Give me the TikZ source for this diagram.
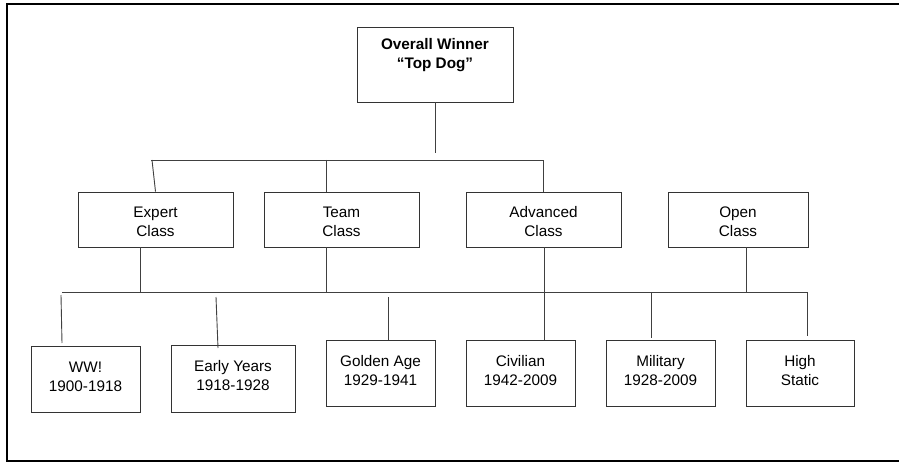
\documentclass[tikz,border=0pt]{standalone}
\usepackage{fontspec}
\setmainfont{Liberation Sans}
\usetikzlibrary{calc}
\begin{document}
\begin{tikzpicture}[x=1pt,y=-1pt,
  box/.style={draw=black!80, line width=0.9pt, rectangle, inner sep=0pt},
  lbl/.style={align=center, font=\fontsize{15.3}{19}\selectfont, inner sep=0pt},
  blbl/.style={align=center, font=\fontsize{15.3}{19}\selectfont\bfseries, inner sep=0pt},
  conn/.style={draw=black!75, line width=0.9pt},
  frameline/.style={draw=black, line width=2pt}]
\useasboundingbox (0,0) rectangle (899,462);
% frame (left, top, bottom)
\coordinate (fTR) at (899,4);
\coordinate (fTL) at (7,4);
\coordinate (fBL) at (7,461);
\coordinate (fBR) at (899,461);
\draw[frameline] (fTR) -- (fTL) -- (fBL) -- (fBR);

% top
\node[box, minimum width=156pt, minimum height=75pt] (top) at (435,64.5) {};
\node[blbl] (topT) at (435,55.5) {Overall Winner\\“Top Dog”};

% level 2
\node[box, minimum width=155pt, minimum height=55pt] (exp) at (155.5,219.5) {};
\node[lbl] (expT) at (155.5,222) {Expert\\Class};
\node[box, minimum width=155pt, minimum height=55pt] (team) at (341.5,219.5) {};
\node[lbl] (teamT) at (341.5,222) {Team\\Class};
\node[box, minimum width=155pt, minimum height=55pt] (adv) at (543.5,219.5) {};
\node[lbl] (advT) at (543.5,222) {Advanced\\Class};
\node[box, minimum width=140pt, minimum height=55pt] (open) at (738,219.5) {};
\node[lbl] (openT) at (738,222) {Open\\Class};

% level 3
\node[box, minimum width=109pt, minimum height=66pt] (ww) at (85.5,379) {};
\node[lbl] (wwT) at (85.5,377) {WW!\\1900-1918};
\node[box, minimum width=124pt, minimum height=67pt] (early) at (233,378.5) {};
\node[lbl] (earlyT) at (233,375.5) {Early Years\\1918-1928};
\node[box, minimum width=109pt, minimum height=66pt] (gold) at (380.5,373) {};
\node[lbl] (goldT) at (380.5,371) {Golden Age\\1929-1941};
\node[box, minimum width=109pt, minimum height=66pt] (civ) at (520.5,373) {};
\node[lbl] (civT) at (520.5,371) {Civilian\\1942-2009};
\node[box, minimum width=109pt, minimum height=66pt] (mil) at (660.5,373) {};
\node[lbl] (milT) at (660.5,371) {Military\\1928-2009};
\node[box, minimum width=108pt, minimum height=66pt] (high) at (800,373) {};
\node[lbl] (highT) at (800,371) {High\\Static};

% connectors top -> level 2
\coordinate (stemEnd) at (435,153);
\draw[conn] (top.south) -- (stemEnd);
\coordinate (b1L) at (151,160);
\coordinate (b1R) at (543.5,160);
\draw[conn] (b1L) -- (b1R) -- (adv.north);
\coordinate (eTop) at (152,160);
\draw[conn] (eTop) -- (exp.north);
\coordinate (tTop) at (326,160);
\draw[conn] (tTop) -- (tTop |- team.north);

% level 2 -> bus 2
\coordinate (b2L) at (62,292);
\coordinate (b2R) at (807,292);
\draw[conn] (b2L) -- (b2R);
\coordinate (eBus) at (140,292);
\draw[conn] (eBus |- exp.south) -- (eBus);
\coordinate (tBus) at (326,292);
\draw[conn] (tBus |- team.south) -- (tBus);
\coordinate (aX) at (544,292);
\draw[conn] (aX |- adv.south) -- (aX |- civ.north);
\coordinate (oBus) at (746,292);
\draw[conn] (oBus |- open.south) -- (oBus);

% drops to level 3
\coordinate (wwA) at (61,295);
\coordinate (wwB) at (62,343);
\draw[conn] (wwA) -- (wwB);
\coordinate (eyA) at (216,297);
\coordinate (eyB) at (218,348);
\draw[conn] (eyA) -- (eyB);
\coordinate (gaA) at (388,297);
\draw[conn] (gaA) -- (gaA |- gold.north);
\coordinate (miA) at (651,292);
\coordinate (miB) at (651,338);
\draw[conn] (miA) -- (miB);
\coordinate (hiA) at (807,292);
\coordinate (hiB) at (807,336);
\draw[conn] (hiA) -- (hiB);
\end{tikzpicture}
\end{document}
